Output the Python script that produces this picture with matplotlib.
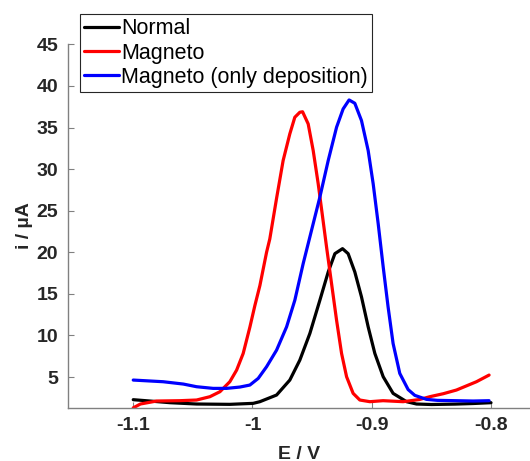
import matplotlib
matplotlib.use("Agg")
import matplotlib.pyplot as plt

plt.rcParams['font.family'] = ['Liberation Sans', 'DejaVu Sans']

# Normal
e_normal = [-1.100, -1.086, -1.0693, -1.0469, -1.019, -0.9994, -0.9938, -0.9798, -0.9687,
            -0.9603, -0.9519, -0.9435, -0.9365, -0.9309, -0.9245, -0.9198, -0.9142, -0.9086,
            -0.903, -0.8974, -0.8904, -0.8821, -0.8708, -0.8625, -0.850, -0.830, -0.815, -0.800]
i_normal = [2.28, 2.12, 1.92, 1.76, 1.72, 1.84, 2.04, 2.84, 4.64,
            7.04, 10.24, 14.24, 17.64, 19.84, 20.44, 19.84, 17.64, 14.64,
            11.04, 7.84, 5.04, 3.04, 2.04, 1.76, 1.70, 1.75, 1.82, 1.92]

# Magneto
e_mag = [-1.100, -1.094, -1.0804, -1.061, -1.0469, -1.0357, -1.0273, -1.019, -1.0133,
         -1.0078, -1.0022, -0.998, -0.9938, -0.9882, -0.9855, -0.9798, -0.9743, -0.9687,
         -0.9645, -0.9603, -0.958, -0.9533, -0.9491, -0.9449, -0.9412, -0.9379, -0.9337,
         -0.9295, -0.9253, -0.9211, -0.9156, -0.910, -0.9016, -0.8905, -0.8737, -0.860,
         -0.8513, -0.840, -0.829, -0.8122, -0.8016]
i_mag = [1.30, 1.76, 2.12, 2.16, 2.24, 2.64, 3.24, 4.44, 5.84,
         7.84, 11.00, 13.60, 16.00, 20.00, 21.60, 26.50, 31.04, 34.24,
         36.24, 36.84, 36.90, 35.44, 32.24, 28.24, 24.24, 20.64, 16.24,
         11.84, 7.84, 5.04, 3.04, 2.24, 2.04, 2.16, 2.04, 2.30,
         2.64, 3.00, 3.44, 4.44, 5.24]

# Magneto (only deposition)
e_dep = [-1.100, -1.0749, -1.058, -1.0469, -1.033, -1.0217, -1.0106, -1.0022, -0.9952,
         -0.9882, -0.9798, -0.9714, -0.9645, -0.9575, -0.9505, -0.9435, -0.9365, -0.9295,
         -0.924, -0.919, -0.9142, -0.9086, -0.903, -0.8988, -0.8946, -0.8904, -0.8863,
         -0.8821, -0.8765, -0.8695, -0.8639, -0.8541, -0.845, -0.829, -0.815, -0.8016]
i_dep = [4.64, 4.44, 4.16, 3.84, 3.64, 3.64, 3.80, 4.04, 4.84,
         6.24, 8.24, 11.04, 14.24, 18.64, 22.64, 26.64, 31.04, 35.04,
         37.24, 38.32, 37.92, 35.84, 32.24, 28.24, 23.44, 18.24, 13.44,
         9.04, 5.44, 3.50, 2.80, 2.32, 2.20, 2.16, 2.12, 2.16]

series = [(e_normal, i_normal, 'k', 'Normal'),
          (e_mag, i_mag, 'r', 'Magneto'),
          (e_dep, i_dep, 'b', 'Magneto (only deposition)')]

x_ticks = [-1.1, -1.0, -0.9, -0.8]
x_tick_labels = ['-1.1', '-1', '-0.9', '-0.8']
y_ticks = [5, 10, 15, 20, 25, 30, 35, 40, 45]

fig = plt.figure(figsize=(5.3, 4.61), dpi=100)
ax = fig.add_axes([0.1283, 0.1156, 0.8717, 0.789])

for e, i, c, lab in series:
    ax.plot(e, i, color=c, linewidth=2.3, label=lab,
            solid_joinstyle='round', solid_capstyle='round')

ax.set_xlim(-1.1547, -0.7673)
ax.set_ylim(1.316, 45.05)

axis_grey = '#808080'
for side in ['top', 'right']:
    ax.spines[side].set_visible(False)
for side in ['left', 'bottom']:
    ax.spines[side].set_color(axis_grey)
    ax.spines[side].set_linewidth(1.0)

ax.set_xticks(x_ticks)
ax.set_xticklabels(x_tick_labels)
ax.set_yticks(y_ticks)
ax.tick_params(direction='in', length=4, width=0.8, color=axis_grey,
               labelsize=14, labelcolor='#262626', pad=7)
for lbl in ax.get_xticklabels() + ax.get_yticklabels():
    lbl.set_fontweight('bold')

ax.set_xlabel('E / V', fontsize=14, fontweight='bold', color='#262626', labelpad=8)
ax.set_ylabel('i / µA', fontsize=14, fontweight='bold', color='#262626', labelpad=2.5)

leg = ax.legend(loc='upper left', bbox_to_anchor=(80 / 530, 1 - 14 / 461),
                bbox_transform=fig.transFigure, borderaxespad=0,
                fontsize=15.5, frameon=True, fancybox=False, framealpha=1,
                handlelength=1.6, handletextpad=0.12, borderpad=0.2,
                labelspacing=0.15)
leg.get_frame().set_edgecolor('#262626')
leg.get_frame().set_linewidth(0.8)

fig.savefig('out.png', dpi=100)
